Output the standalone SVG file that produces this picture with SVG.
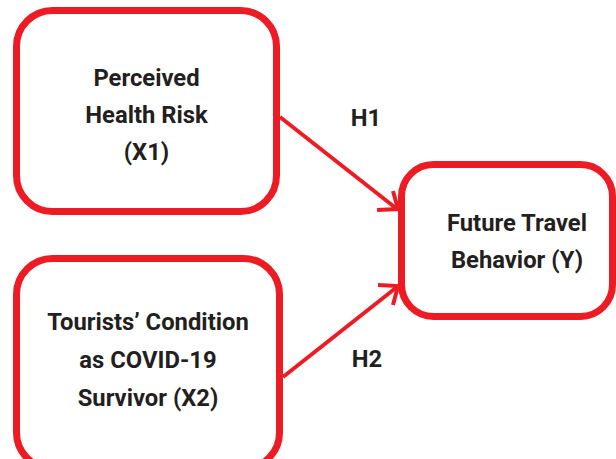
<svg xmlns="http://www.w3.org/2000/svg" width="616" height="459" viewBox="0 0 616 459">
<style>
.box{fill:#fff;stroke:#ED1C24;stroke-width:7}
.lbl{font-family:Roboto,"Liberation Sans",sans-serif;font-weight:700;font-size:23.8px;fill:#231F20;text-anchor:middle}
.con{stroke:#ED1C24;stroke-width:4;fill:none}
</style>
<rect width="616" height="459" fill="#fff"/>
<g id="x1">
<rect class="box" x="16.5" y="10.5" width="260" height="201" rx="36"/>
<text class="lbl" x="146.5" y="86">Perceived</text>
<text class="lbl" x="146.5" y="123">Health Risk</text>
<text class="lbl" x="146.5" y="160">(X1)</text>
</g>
<g id="x2">
<rect class="box" x="16.5" y="258.5" width="263" height="210" rx="36"/>
<text class="lbl" x="148" y="330">Tourists’ Condition</text>
<text class="lbl" x="148" y="368">as COVID-19</text>
<text class="lbl" x="148" y="406">Survivor (X2)</text>
</g>
<g id="y">
<rect class="box" x="401.5" y="164.5" width="211" height="152" rx="32"/>
<text class="lbl" x="517" y="231">Future Travel</text>
<text class="lbl" x="517" y="268">Behavior (Y)</text>
</g>
<g id="connectors">
<path class="con" d="M280 117 L397 209"/>
<path class="con" d="M377 210 L398 209 L393 191"/>
<path class="con" d="M283 377 L397 287"/>
<path class="con" d="M378 285 L398 286 L393 305"/>
<text class="lbl" x="366" y="126">H1</text>
<text class="lbl" x="367" y="367">H2</text>
</g>
</svg>
